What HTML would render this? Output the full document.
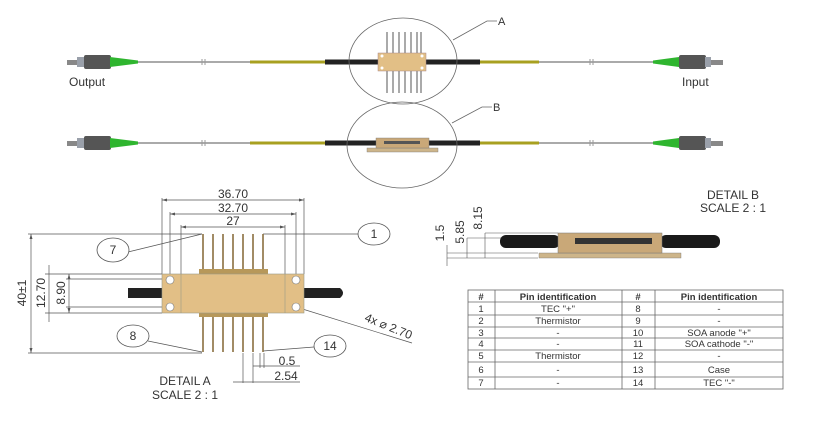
<!DOCTYPE html>
<html><head><meta charset="utf-8"><style>
body{margin:0;background:#fff}
svg{display:block}
text{font-family:"Liberation Sans",sans-serif;fill:#333}
</style></head><body>
<svg width="823" height="432" viewBox="0 0 823 432" xmlns="http://www.w3.org/2000/svg">
<defs>
<g id="row">
  <rect x="67" y="-2" width="10" height="5" fill="#888"/>
  <rect x="77" y="-5" width="8" height="10" fill="#9aa0aa"/>
  <rect x="84" y="-7" width="27" height="14" rx="2" fill="#555"/>
  <polygon points="110,-5 138,-1.5 138,1.5 110,5" fill="#2fb52f"/>
  <line x1="138" y1="0" x2="250" y2="0" stroke="#777" stroke-width="1.2"/>
  <line x1="202" y1="-3" x2="202" y2="3" stroke="#999"/><line x1="205" y1="-3" x2="205" y2="3" stroke="#999"/>
  <rect x="250" y="-1.5" width="76" height="3" fill="#a8a020"/>
  <rect x="325" y="-2.5" width="53" height="5" fill="#222"/>
  <rect x="426" y="-2.5" width="54" height="5" fill="#222"/>
  <rect x="480" y="-1.5" width="59" height="3" fill="#a8a020"/>
  <line x1="539" y1="0" x2="653" y2="0" stroke="#777" stroke-width="1.2"/>
  <line x1="590" y1="-3" x2="590" y2="3" stroke="#999"/><line x1="593" y1="-3" x2="593" y2="3" stroke="#999"/>
  <polygon points="679,-5 653,-1.5 653,1.5 679,5" fill="#2fb52f"/>
  <rect x="679" y="-7" width="27" height="14" rx="2" fill="#555"/>
  <rect x="705" y="-5" width="6" height="10" fill="#9aa0aa"/>
  <rect x="711" y="-2" width="12" height="5" fill="#888"/>
</g>
</defs>
<!-- row 1 -->
<use href="#row" transform="translate(0,62)"/>
<g stroke="#555" stroke-width="1">
<line x1="387" y1="32" x2="387" y2="53"/><line x1="393" y1="32" x2="393" y2="53"/><line x1="399" y1="32" x2="399" y2="53"/><line x1="405" y1="32" x2="405" y2="53"/><line x1="411" y1="32" x2="411" y2="53"/><line x1="417" y1="32" x2="417" y2="53"/><line x1="421" y1="32" x2="421" y2="53"/>
<line x1="387" y1="71" x2="387" y2="93"/><line x1="393" y1="71" x2="393" y2="93"/><line x1="399" y1="71" x2="399" y2="93"/><line x1="405" y1="71" x2="405" y2="93"/><line x1="411" y1="71" x2="411" y2="93"/><line x1="417" y1="71" x2="417" y2="93"/><line x1="421" y1="71" x2="421" y2="93"/>
</g>
<rect x="378" y="53" width="48" height="18" fill="#e2bf86" stroke="#a88" stroke-width="0.5"/>
<circle cx="382" cy="56" r="1.5" fill="#fff"/><circle cx="422" cy="56" r="1.5" fill="#fff"/><circle cx="382" cy="68" r="1.5" fill="#fff"/><circle cx="422" cy="68" r="1.5" fill="#fff"/>
<ellipse cx="403" cy="61" rx="54" ry="43" fill="none" stroke="#666" stroke-width="0.8"/>
<polyline points="453,40 487,21 497,21" fill="none" stroke="#666" stroke-width="0.8"/>
<text x="498" y="25" font-size="11">A</text>
<text x="69" y="86" font-size="12">Output</text>
<text x="682" y="86" font-size="12">Input</text>
<!-- row 2 -->
<use href="#row" transform="translate(0,143)"/>
<rect x="367" y="148" width="71" height="4" fill="#cdb58a" stroke="#777" stroke-width="0.4"/>
<rect x="376" y="138" width="53" height="10" fill="#c9a878" stroke="#777" stroke-width="0.4"/>
<rect x="384" y="141" width="36" height="3" fill="#555"/>
<ellipse cx="402" cy="145" rx="55" ry="43" fill="none" stroke="#666" stroke-width="0.8"/>
<polyline points="452,123 482,107 492,107" fill="none" stroke="#666" stroke-width="0.8"/>
<text x="493" y="111" font-size="11">B</text>

<!-- Detail A -->
<g stroke="#555" stroke-width="0.7" fill="none">
<line x1="162" y1="200" x2="304" y2="200"/><line x1="170" y1="214" x2="296" y2="214"/><line x1="181" y1="227" x2="285" y2="227"/>
<line x1="162" y1="198" x2="162" y2="274"/><line x1="304" y1="198" x2="304" y2="274"/>
<line x1="170" y1="212" x2="170" y2="280"/><line x1="296" y1="212" x2="296" y2="280"/>
<line x1="181" y1="225" x2="181" y2="274"/><line x1="285" y1="225" x2="285" y2="274"/>
<line x1="31" y1="234" x2="31" y2="353"/><line x1="28" y1="234" x2="202" y2="234"/><line x1="28" y1="353" x2="202" y2="353"/>
<line x1="49" y1="265" x2="49" y2="322"/><line x1="45" y1="274" x2="162" y2="274"/><line x1="45" y1="313" x2="162" y2="313"/>
<line x1="69" y1="274" x2="69" y2="313"/><line x1="66" y1="279" x2="170" y2="279"/><line x1="66" y1="307" x2="170" y2="307"/>
<line x1="263" y1="234" x2="358" y2="234"/>
<line x1="128" y1="252" x2="202" y2="234"/>
<line x1="148" y1="341" x2="202" y2="352"/>
<line x1="263" y1="351" x2="314" y2="347"/>
<line x1="296" y1="307" x2="412" y2="343"/>
<line x1="243" y1="353" x2="243" y2="383"/><line x1="253" y1="353" x2="253" y2="383"/><line x1="260" y1="353" x2="260" y2="368"/><line x1="264" y1="353" x2="264" y2="368"/>
<line x1="253" y1="366" x2="300" y2="366"/><line x1="233" y1="382" x2="300" y2="382"/>
</g>
<g fill="#555">
<polygon points="162,200 167,198.5 167,201.5"/><polygon points="304,200 299,198.5 299,201.5"/>
<polygon points="170,214 175,212.5 175,215.5"/><polygon points="296,214 291,212.5 291,215.5"/>
<polygon points="181,227 186,225.5 186,228.5"/><polygon points="285,227 280,225.5 280,228.5"/>
<polygon points="31,234 29.5,239 32.5,239"/><polygon points="31,353 29.5,348 32.5,348"/>
<polygon points="69,274 67.5,279 70.5,279"/><polygon points="69,313 67.5,308 70.5,308"/>
</g>
<path d="M128,288 H182 V298 H128 Z" fill="#222"/>
<path d="M285,288 H340 Q346,293 340,298 H285 Z" fill="#222"/>
<rect x="199" y="269" width="69" height="5" fill="#b7985a"/>
<rect x="199" y="313" width="69" height="4" fill="#b7985a"/>
<g stroke="#8a7040" stroke-width="1.6">
<line x1="203" y1="234" x2="203" y2="269"/><line x1="213" y1="234" x2="213" y2="269"/><line x1="223" y1="234" x2="223" y2="269"/><line x1="233" y1="234" x2="233" y2="269"/><line x1="243" y1="234" x2="243" y2="269"/><line x1="253" y1="234" x2="253" y2="269"/><line x1="263" y1="234" x2="263" y2="269"/>
<line x1="203" y1="317" x2="203" y2="352"/><line x1="213" y1="317" x2="213" y2="352"/><line x1="223" y1="317" x2="223" y2="352"/><line x1="233" y1="317" x2="233" y2="352"/><line x1="243" y1="317" x2="243" y2="352"/><line x1="253" y1="317" x2="253" y2="352"/><line x1="263" y1="317" x2="263" y2="352"/>
</g>
<rect x="162" y="274" width="142" height="39" fill="#e2bf86" stroke="#998" stroke-width="0.6"/>
<line x1="181" y1="274" x2="181" y2="313" stroke="#998" stroke-width="0.6"/><line x1="285" y1="274" x2="285" y2="313" stroke="#998" stroke-width="0.6"/>
<g fill="#fff" stroke="#777" stroke-width="0.6"><circle cx="170" cy="280" r="4"/><circle cx="170" cy="307" r="4"/><circle cx="296" cy="280" r="4"/><circle cx="296" cy="307" r="4"/></g>
<g fill="#fff" stroke="#555" stroke-width="0.8">
<ellipse cx="113" cy="250" rx="16" ry="12"/><ellipse cx="374" cy="234" rx="16" ry="11"/>
<ellipse cx="133" cy="336" rx="16" ry="11"/><ellipse cx="330" cy="346" rx="16" ry="11"/></g>
<g font-size="12" text-anchor="middle">
<text x="113" y="254">7</text><text x="374" y="238">1</text><text x="133" y="340">8</text><text x="330" y="350">14</text>
<text x="233" y="198">36.70</text><text x="233" y="212">32.70</text><text x="233" y="225">27</text>
<text x="287" y="365">0.5</text><text x="286" y="380">2.54</text>
<text x="185" y="385">DETAIL A</text><text x="185" y="399">SCALE 2 : 1</text>
<text transform="translate(26,293) rotate(-90)">40±1</text>
<text transform="translate(45,293) rotate(-90)">12.70</text>
<text transform="translate(65,293) rotate(-90)">8.90</text>
<text transform="translate(387,330) rotate(22)">4x ⌀ 2.70</text>
<text x="733" y="199">DETAIL B</text><text x="733" y="212">SCALE 2 : 1</text>
<text transform="translate(444,233) rotate(-90)">1.5</text>
<text transform="translate(464,232) rotate(-90)">5.85</text>
<text transform="translate(482,218) rotate(-90)">8.15</text>
</g>
<!-- Detail B -->
<g stroke="#555" stroke-width="0.6">
<line x1="447" y1="253" x2="538" y2="253"/><line x1="447" y1="258" x2="538" y2="258"/><line x1="467" y1="238" x2="558" y2="238"/><line x1="485" y1="233" x2="558" y2="233"/>
<line x1="447" y1="245" x2="447" y2="266"/><line x1="467" y1="238" x2="467" y2="258"/><line x1="485" y1="233" x2="485" y2="258"/>
</g>
<rect x="500" y="235" width="60" height="13" rx="6" fill="#1a1a1a"/>
<rect x="660" y="235" width="60" height="13" rx="6" fill="#1a1a1a"/>
<rect x="539" y="253" width="142" height="5" fill="#cdb58a" stroke="#777" stroke-width="0.4"/>
<rect x="558" y="233" width="104" height="20" fill="#c9a878" stroke="#777" stroke-width="0.5"/>
<rect x="575" y="238" width="77" height="6" fill="#333"/>
<!-- table -->
<g stroke="#666" stroke-width="0.8" fill="none">
<rect x="468" y="290" width="315" height="99"/>
<line x1="495" y1="290" x2="495" y2="389"/><line x1="622" y1="290" x2="622" y2="389"/><line x1="655" y1="290" x2="655" y2="389"/>
<line x1="468" y1="302" x2="783" y2="302"/><line x1="468" y1="315" x2="783" y2="315"/><line x1="468" y1="327" x2="783" y2="327"/><line x1="468" y1="338" x2="783" y2="338"/><line x1="468" y1="350" x2="783" y2="350"/><line x1="468" y1="362" x2="783" y2="362"/><line x1="468" y1="377" x2="783" y2="377"/>
</g>
<g font-size="9.5" text-anchor="middle">
<g font-weight="bold"><text x="481" y="300">#</text><text x="558" y="300">Pin identification</text><text x="638" y="300">#</text><text x="719" y="300">Pin identification</text></g>
<text x="481" y="312">1</text><text x="558" y="312">TEC "+"</text><text x="638" y="312">8</text><text x="719" y="312">-</text>
<text x="481" y="324">2</text><text x="558" y="324">Thermistor</text><text x="638" y="324">9</text><text x="719" y="324">-</text>
<text x="481" y="336">3</text><text x="558" y="336">-</text><text x="638" y="336">10</text><text x="719" y="336">SOA anode "+"</text>
<text x="481" y="347">4</text><text x="558" y="347">-</text><text x="638" y="347">11</text><text x="719" y="347">SOA cathode "-"</text>
<text x="481" y="359">5</text><text x="558" y="359">Thermistor</text><text x="638" y="359">12</text><text x="719" y="359">-</text>
<text x="481" y="373">6</text><text x="558" y="373">-</text><text x="638" y="373">13</text><text x="719" y="373">Case</text>
<text x="481" y="386">7</text><text x="558" y="386">-</text><text x="638" y="386">14</text><text x="719" y="386">TEC "-"</text>
</g>
</svg>
</body></html>
